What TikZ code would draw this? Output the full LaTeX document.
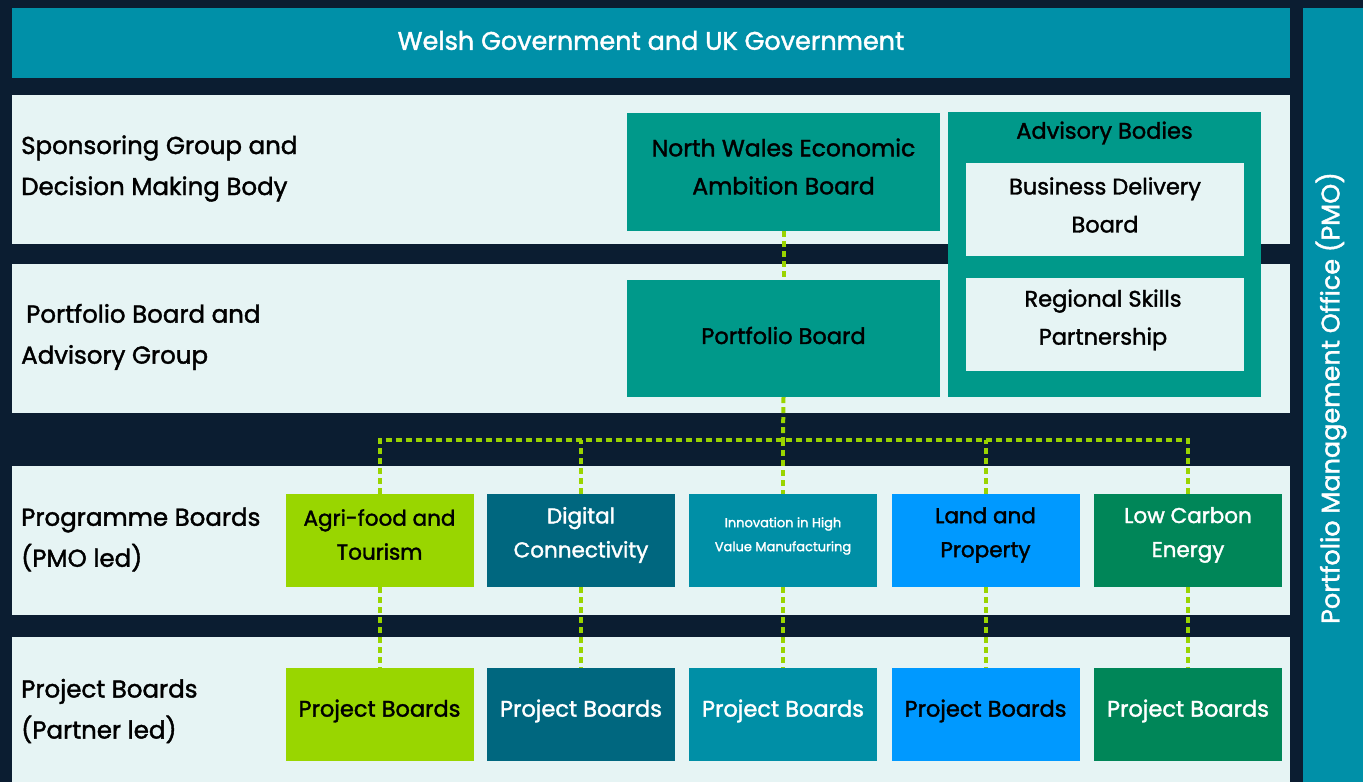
\documentclass[tikz,border=0pt]{standalone}
\usepackage{fontspec}
\setmainfont{Poppins}[RawFeature={embolden=1.6}]
\definecolor{navy}{HTML}{0B1D31}
\definecolor{banner}{HTML}{0090A8}
\definecolor{bandbg}{HTML}{E6F4F4}
\definecolor{tealbox}{HTML}{00998A}
\definecolor{limeg}{HTML}{99D600}
\definecolor{digi}{HTML}{00677F}
\definecolor{innov}{HTML}{008FA6}
\definecolor{landc}{HTML}{0099FF}
\definecolor{lowc}{HTML}{008658}
\definecolor{dotc}{HTML}{9AD400}
\tikzset{
  box/.style={rectangle, inner sep=0pt, align=center, text=black},
  bandlabel/.style={anchor=west, align=left, inner sep=0pt, text=black, font=\fontsize{24.5}{41}\selectfont},
  boxtext/.style={font=\fontsize{22.5}{38}\selectfont},
  progtext/.style={box, font=\fontsize{21.5}{34}\selectfont},
  progbox/.style={box, minimum width=188pt, minimum height=93pt},
  conn/.style={draw=dotc, line width=4pt, dash pattern=on 6pt off 4pt}
}
\begin{document}
\begin{tikzpicture}[x=1pt,y=-1pt]
\fill[navy] (0,0) rectangle (1363,782);
\useasboundingbox (0,0) rectangle (1363,782);
% banner and PMO bar
\node[box, fill=banner, minimum width=1278pt, minimum height=70pt] (gov) at (651,43) {};
\node[box, text=white, font=\fontsize{25.5}{30}\selectfont] (govt) at (651,40.5) {Welsh Government and UK Government};
\node[box, fill=banner, minimum width=60pt, minimum height=774pt] (pmo) at (1333,395) {};
\node[box, rotate=90, text=white, font=\fontsize{25.5}{30}\selectfont] (pmot) at (1331,398) {Portfolio Management Office (PMO)};
% bands
\node[box, fill=bandbg, minimum width=1278pt, minimum height=149pt] (band1) at (651,169.5) {};
\node[box, fill=bandbg, minimum width=1278pt, minimum height=149pt] (band2) at (651,338.5) {};
\node[box, fill=bandbg, minimum width=1278pt, minimum height=149pt] (band3) at (651,540.5) {};
\node[box, fill=bandbg, minimum width=1278pt, minimum height=145pt] (band4) at (651,709.5) {};
% band labels
\node[bandlabel] (l1) at (21,168.5) {Sponsoring Group and\\Decision Making Body};
\node[bandlabel] (l2) at (21,337) {\hspace{5pt}Portfolio Board and\\Advisory Group};
\node[bandlabel] (l3) at (21,539.5) {Programme Boards\\(PMO led)};
\node[bandlabel] (l4) at (21,711) {Project Boards\\(Partner led)};
% top boxes
\node[box, fill=tealbox, minimum width=313pt, minimum height=118pt] (nw) at (783.5,172) {};
\node[box, font=\fontsize{23.5}{38}\selectfont] (nwt) at (783.5,166.5) {North Wales Economic\\Ambition Board};
\node[box, fill=tealbox, minimum width=313pt, minimum height=117pt] (pb) at (783.5,338.5) {};
\node[box, boxtext] (pbt) at (783.5,335.5) {Portfolio Board};
\node[box, fill=tealbox, minimum width=313pt, minimum height=285pt] (adv) at (1104.5,254.5) {};
\node[box, boxtext] (advl) at (1104.5,133) {Advisory Bodies};
\node[box, fill=bandbg, minimum width=278pt, minimum height=93pt] (bdb) at (1105,209.5) {};
\node[box, boxtext] (bdbt) at (1105,205) {Business Delivery\\Board};
\node[box, fill=bandbg, minimum width=278pt, minimum height=93pt] (rsp) at (1105,324.5) {};
\node[box, boxtext] (rspt) at (1103,320) {Regional Skills\\Partnership};
% programme boards
\node[progbox, fill=limeg] (p1) at (379.5,540.5) {};
\node[progtext] (p1t) at (379.5,534.5) {Agri-food and\\Tourism};
\node[progbox, fill=digi] (p2) at (581,540.5) {};
\node[progtext, text=white] (p2t) at (581,535) {Digital\\Connectivity};
\node[progbox, fill=innov] (p3) at (783,540.5) {};
\node[box, text=white, font=\fontsize{13}{24}\selectfont] (p3t) at (783,536) {Innovation in High\\Value Manufacturing};
\node[progbox, fill=landc] (p4) at (985.5,540.5) {};
\node[progtext] (p4t) at (985.5,535) {Land and\\Property};
\node[progbox, fill=lowc] (p5) at (1188,540.5) {};
\node[progtext, text=white] (p5t) at (1188,535) {Low Carbon\\Energy};
% project boards
\node[progbox, fill=limeg] (q1) at (379.5,714.5) {};
\node[progbox, fill=digi] (q2) at (581,714.5) {};
\node[progbox, fill=innov] (q3) at (783,714.5) {};
\node[progbox, fill=landc] (q4) at (985.5,714.5) {};
\node[progbox, fill=lowc] (q5) at (1188,714.5) {};
\node[box, boxtext] (q1t) at (379.5,711) {Project Boards};
\node[box, boxtext, text=white] (q2t) at (581,711) {Project Boards};
\node[box, boxtext, text=white] (q3t) at (783,711) {Project Boards};
\node[box, boxtext] (q4t) at (985.5,711) {Project Boards};
\node[box, boxtext, text=white] (q5t) at (1188,711) {Project Boards};
% connectors
\coordinate (hub) at (783,440);
\draw[conn] (nw.south) -- (pb.north);
\draw[conn] (pb.south) -- (hub);
\draw[conn] (p1.north) |- (hub);
\draw[conn] (p5.north) |- (hub);
\draw[conn] (p2.north) -- (p2.north |- hub);
\draw[conn] (p3.north |- hub) -- (p3.north);
\draw[conn] (p4.north) -- (p4.north |- hub);
\draw[conn] (p1.south) -- (q1.north);
\draw[conn] (p2.south) -- (q2.north);
\draw[conn] (p3.south) -- (q3.north);
\draw[conn] (p4.south) -- (q4.north);
\draw[conn] (p5.south) -- (q5.north);
\end{tikzpicture}
\end{document}
